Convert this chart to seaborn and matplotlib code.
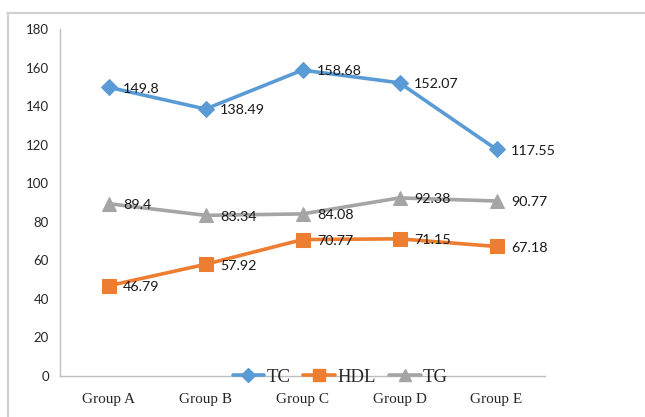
import matplotlib
matplotlib.use("Agg")
import matplotlib.pyplot as plt
import seaborn as sns
import pandas as pd
from matplotlib.lines import Line2D

categories = ["Group A", "Group B", "Group C", "Group D", "Group E"]
tc = [149.8, 138.49, 158.68, 152.07, 117.55]
hdl = [46.79, 57.92, 70.77, 71.15, 67.18]
tg = [89.4, 83.34, 84.08, 92.38, 90.77]
series_names = ["TC", "HDL", "TG"]
y_ticks = [0, 20, 40, 60, 80, 100, 120, 140, 160, 180]

colors = {"TC": "#5B9BD5", "HDL": "#ED7D31", "TG": "#A5A5A5"}
markers = {"TC": "D", "HDL": "s", "TG": "^"}
msizes = {"TC": 8, "HDL": 10, "TG": 10}

sns.set_style("white")
sans = ["Lato", "DejaVu Sans"]
serif = ["Liberation Serif", "DejaVu Serif"]
plt.rcParams["font.family"] = sans

df = pd.DataFrame({
    "group": categories * 3,
    "value": tc + hdl + tg,
    "series": [s for s in series_names for _ in categories],
})

fig = plt.figure(figsize=(6.45, 4.17), dpi=100)
ax = fig.add_axes([60 / 645, 1 - 376 / 417, (545 - 60) / 645, (376 - 29) / 417])

for name in series_names:
    sub = df[df["series"] == name]
    sns.lineplot(data=sub, x="group", y="value", ax=ax, color=colors[name],
                 marker=markers[name], markersize=msizes[name],
                 markeredgecolor=colors[name], linewidth=2.6, label=name,
                 sort=False)
    for i, v in enumerate(sub["value"]):
        ax.annotate(f"{v:g}", (i, v), xytext=(10.5, -1), textcoords="offset points",
                    ha="left", va="center", fontsize=10.3, color="#1a1a1a",
                    family=sans)

ax.set_xlim(-0.5, 4.5)
ax.set_ylim(0, 180)
ax.set_yticks(y_ticks)
ax.set_xticks(range(len(categories)))
ax.set_xticklabels(categories, family=serif, fontsize=11)
ax.set_xticks([i - 0.5 for i in range(len(categories) + 1)], minor=True)
ax.tick_params(axis="x", which="major", length=0, pad=12)
ax.tick_params(axis="x", which="minor", length=4, color="#BFBFBF", width=1)
ax.tick_params(axis="y", length=4, color="#BFBFBF", width=1, labelsize=9.5, pad=4)
for lab in ax.get_yticklabels():
    lab.set_family(sans)
ax.set_xlabel("")
ax.set_ylabel("")
sns.despine(ax=ax)
for s in ["left", "bottom"]:
    ax.spines[s].set_color("#BFBFBF")
    ax.spines[s].set_linewidth(1)

handles = [Line2D([0], [0], color=colors[n], marker=markers[n], markersize=msizes[n] * 0.85,
                  linewidth=2.6) for n in series_names]
leg = ax.legend(handles, series_names, loc="center", bbox_to_anchor=(340 / 645, 1 - 377 / 417),
                bbox_transform=fig.transFigure, ncol=3, frameon=False,
                prop={"family": serif, "size": 13.5}, handlelength=1.7,
                handletextpad=0.1, columnspacing=0.7)

fig.add_artist(Line2D([7 / 645, 1], [1 - 13 / 417, 1 - 13 / 417], transform=fig.transFigure,
                      color="#D0D0D0", linewidth=1.5))
fig.add_artist(Line2D([8 / 645, 8 / 645], [0, 1 - 13 / 417], transform=fig.transFigure,
                      color="#D0D0D0", linewidth=1.5))

fig.savefig("out.png", dpi=100)
